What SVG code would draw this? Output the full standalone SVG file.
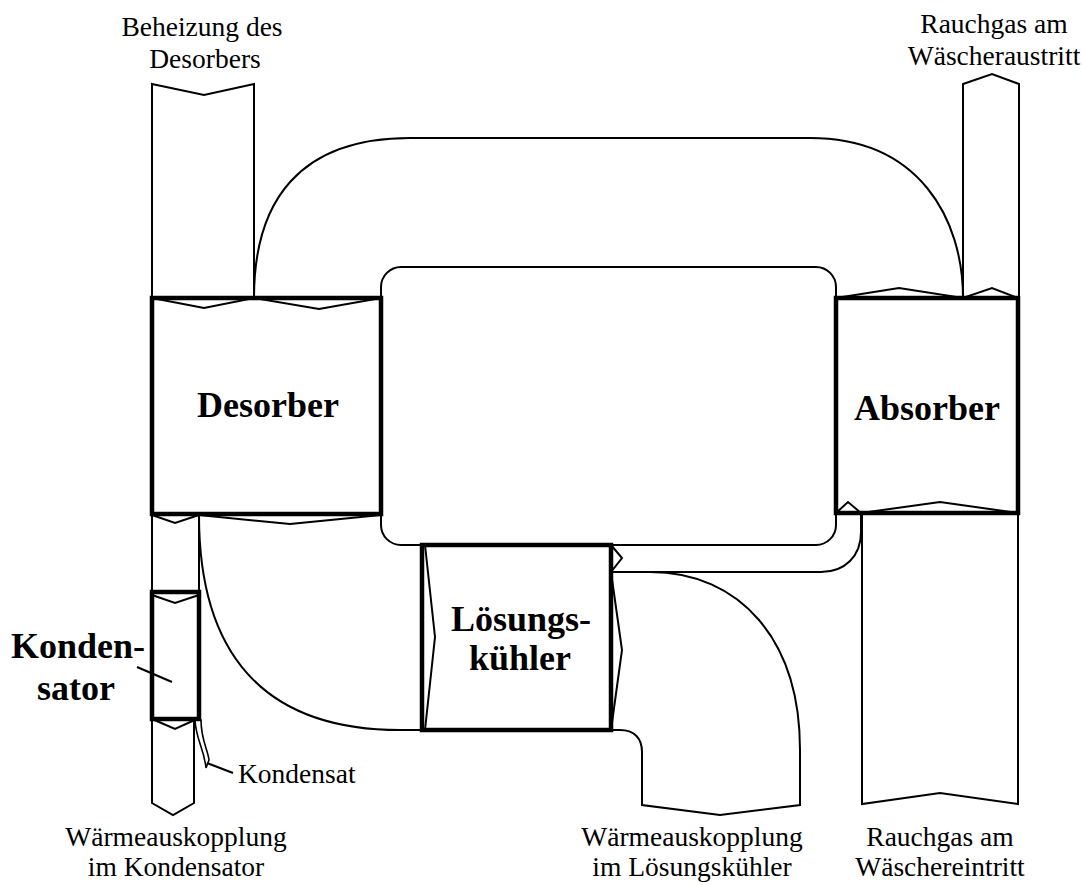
<svg xmlns="http://www.w3.org/2000/svg" width="1082" height="885" viewBox="0 0 1082 885">
<style>
.thin{fill:none;stroke:#000;stroke-width:2;stroke-linejoin:miter}
.thick{fill:none;stroke:#000;stroke-width:4.5}
.lbl{font-family:"Liberation Serif","Times New Roman",serif;font-size:27.5px;fill:#000}
.bold{font-family:"Liberation Serif","Times New Roman",serif;font-size:36px;font-weight:bold;fill:#000}
</style>
<rect width="1082" height="885" fill="#fff"/>
<g id="connectors">
  <!-- outer loop from desorber to absorber -->
  <path class="thin" d="M254 298 C254 200 300 138 410 138 L810 138 C920 138 963 220 963 298"/>
  <!-- inner rounded loop -->
  <rect class="thin" x="381" y="267" width="455" height="278" rx="20" ry="20"/>
  <!-- outer bend absorber bottom to Lösungskühler -->
  <path class="thin" d="M861 513 L861 532 C861 556 845 572 821 572 L611 572"/>
  <!-- outer curve desorber bottom to Lösungskühler -->
  <path class="thin" d="M199 515 C199 650 260 730 400 730 L422 730"/>
  <!-- Kondensator pipe -->
  <path class="thin" d="M152 513 L152 803 L173 815 L194 803 L194 719"/>
  <path class="thin" d="M199 513 L199 592"/>
  <polyline class="thin" points="152,515 175,523 199,515"/>
  <!-- condensate drip -->
  <path d="M195 720 C196 740 204 748 206 768 L209 760 C208 750 201 740 201 720 Z" fill="#fff" stroke="#000" stroke-width="1.6"/>
  <line class="thin" x1="207" y1="763" x2="233" y2="773"/>
  <line class="thin" x1="137" y1="667" x2="172" y2="682"/>
</g>
<g id="beheizung">
  <polyline class="thin" points="152,298 152,84 204,95 254,84 254,298"/>
  <text class="lbl" x="202" y="36" text-anchor="middle">Beheizung des</text>
  <text class="lbl" x="205" y="68" text-anchor="middle">Desorbers</text>
</g>
<g id="rauchgas-aus">
  <polyline class="thin" points="963,298 963,84 992,74 1019,84 1019,298"/>
  <text class="lbl" x="994" y="33" text-anchor="middle">Rauchgas am</text>
  <text class="lbl" x="994" y="65" text-anchor="middle">Wäscheraustritt</text>
</g>
<g id="rauchgas-ein">
  <polyline class="thin" points="862,513 862,804 940,793 1018,804 1018,513"/>
  <text class="lbl" x="940" y="846" text-anchor="middle">Rauchgas am</text>
  <text class="lbl" x="940" y="876" text-anchor="middle">Wäschereintritt</text>
</g>
<g id="waerme-loesung">
  <path class="thin" d="M611 572 L650 572 C740 572 800 640 800 750 L800 805 L720 815 L642 805 L642 752 C642 738 634 730 620 730 L611 730"/>
  <text class="lbl" x="692" y="846" text-anchor="middle">Wärmeauskopplung</text>
  <text class="lbl" x="692" y="876" text-anchor="middle">im Lösungskühler</text>
</g>
<g id="desorber">
  <rect x="152" y="298" width="229" height="216" fill="none" stroke="#000" stroke-width="4.5"/>
  <polyline class="thin" points="152,298 204,308 254,298 319,309 381,298"/>
  <polyline class="thin" points="199,515 290,524 381,515"/>
  <text class="bold" x="268" y="417" text-anchor="middle">Desorber</text>
</g>
<g id="absorber">
  <rect x="836" y="298" width="182" height="215" fill="none" stroke="#000" stroke-width="4.5"/>
  <polyline class="thin" points="836,298 899,288 963,298 992,288 1018,298"/>
  <polyline class="thin" points="836,513 848,502 861,513 940,502 1018,513"/>
  <text class="bold" x="927" y="420" text-anchor="middle">Absorber</text>
</g>
<g id="loesungskuehler">
  <rect x="422" y="545" width="189" height="185" fill="none" stroke="#000" stroke-width="4.5"/>
  <polyline class="thin" points="425,545 435,637 425,730"/>
  <polyline class="thin" points="611,572 622,650 611,730"/>
  <polyline class="thin" points="611,545 622,558 611,572"/>
  <text class="bold" x="521" y="631" text-anchor="middle">Lösungs-</text>
  <text class="bold" x="520" y="670" text-anchor="middle">kühler</text>
</g>
<g id="kondensator">
  <rect x="152" y="592" width="47" height="127" fill="none" stroke="#000" stroke-width="4.5"/>
  <polyline class="thin" points="152,595 175,603 199,595"/>
  <polyline class="thin" points="152,719 175,729 197,719"/>
  <text class="bold" x="78" y="658" text-anchor="middle">Konden-</text>
  <text class="bold" x="76" y="700" text-anchor="middle">sator</text>
</g>
<g id="kondensat">
  <text class="lbl" x="238" y="783">Kondensat</text>
</g>
<g id="waerme-kond">
  <text class="lbl" x="176" y="846" text-anchor="middle">Wärmeauskopplung</text>
  <text class="lbl" x="176" y="876" text-anchor="middle">im Kondensator</text>
</g>
</svg>
